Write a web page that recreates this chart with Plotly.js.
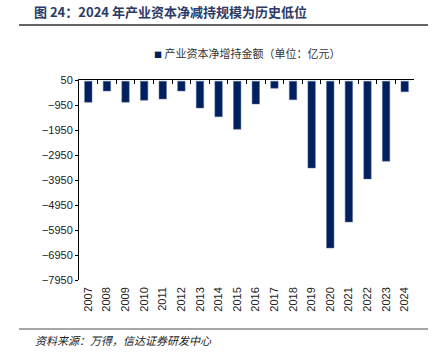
<!DOCTYPE html>
<html>
<head>
<meta charset="utf-8">
<script src="https://cdn.plot.ly/plotly-3.0.1.min.js"></script>
<style>html,body{margin:0;padding:0;background:#fff;}#chart{width:442px;height:355px;}</style>
</head>
<body>
<div id="chart"></div>
<script>
const years = ["2007","2008","2009","2010","2011","2012","2013","2014","2015","2016","2017","2018","2019","2020","2021","2022","2023","2024"];
const netHolding = [-840,-390,-840,-760,-710,-390,-1070,-1420,-1920,-910,-280,-740,-3470,-6670,-5630,-3910,-3200,-420];
const seriesName = "产业资本净增持金额（单位：亿元）";
const titleText = "图 24：2024 年产业资本净减持规模为历史低位";
const sourceText = "资料来源：万得，信达证券研发中心";

const cjk = '"Noto Sans CJK SC", "Liberation Sans", sans-serif';
const num = '"Liberation Sans", Arial, sans-serif';

const traces = [
  {type:'bar', x: years, y: netHolding, name: seriesName, marker:{color:'#002060', line:{color:'#5b6f99', width:0.5}}, xaxis:'x', yaxis:'y', showlegend:false},
  {type:'bar', x: years, y: years.map(()=>null), xaxis:'x2', yaxis:'y', showlegend:false, hoverinfo:'skip'}
];

const layout = {
  width:442, height:355,
  margin:{l:79, r:28, t:80, b:75},
  paper_bgcolor:'#fff', plot_bgcolor:'#fff',
  bargap:0.6,
  showlegend:false,
  xaxis:{type:'category', showline:false, ticks:'', showgrid:false, zeroline:false, tickangle:-90, tickfont:{family:num, size:11, color:'#222'}, ticklabelstandoff:4},
  xaxis2:{type:'category', overlaying:'x', matches:'x', side:'top', showline:true, linecolor:'#000', linewidth:1, ticks:'inside', ticklen:4, tickcolor:'#000', tickson:'boundaries', showticklabels:false, showgrid:false, zeroline:false},
  yaxis:{range:[-7950,50], tick0:50, dtick:1000, showline:true, linecolor:'#000', linewidth:1, ticks:'outside', ticklen:3, tickcolor:'#000', showgrid:false, zeroline:false, tickfont:{family:num, size:11, color:'#222'}},
  shapes:[
    {type:'line', xref:'paper', yref:'paper', x0:-60/335, x1:349/335, y0:1+55/200, y1:1+55/200, line:{color:'#333', width:1.5}},
    {type:'line', xref:'paper', yref:'paper', x0:-60/335, x1:349/335, y0:-49/200, y1:-49/200, line:{color:'#888', width:1.5}}
  ],
  annotations:[
    {text:titleText, xref:'paper', yref:'paper', x:-59/335, xshift:12, y:1+69/200, xanchor:'left', yanchor:'middle', showarrow:false, font:{family:cjk, size:13, color:'#2b3a67', weight:'bold'}},
    {text:'<span style="color:#002060;font-size:8px">■</span> ' + seriesName, xref:'paper', yref:'paper', x:73/335, y:1+27/200, xanchor:'left', yanchor:'middle', showarrow:false, font:{family:cjk, size:11, color:'#333'}},
    {text:sourceText, xref:'paper', yref:'paper', x:-58/335, xshift:12, y:-60/200, xanchor:'left', yanchor:'middle', showarrow:false, font:{family:cjk, size:11, color:'#222', style:'italic'}}
  ]
};

Plotly.newPlot('chart', traces, layout, {displayModeBar:false, staticPlot:true});
</script>
</body>
</html>
